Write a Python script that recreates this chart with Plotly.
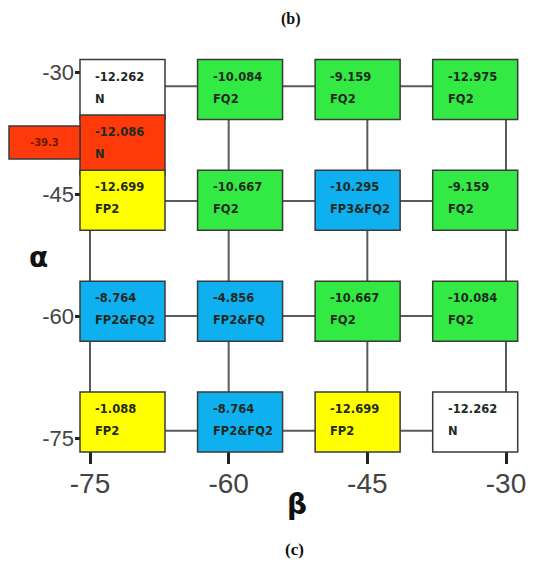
import plotly.graph_objects as go

PAGE_W, PAGE_H = 539, 565
OFF = 8                               # page margin around the figure
W, H = PAGE_W - OFF, PAGE_H - OFF     # figure size

# ---------------- data ----------------
beta_ticks = [-75, -60, -45, -30]
alpha_ticks = [-30, -45, -60, -75]

box_beta = [-75, -60, -45, -30,
            -75,
            -75, -60, -45, -30,
            -75, -60, -45, -30,
            -75, -60, -45, -30]
box_alpha = [-30, -30, -30, -30,
             -37.5,
             -45, -45, -45, -45,
             -60, -60, -60, -60,
             -75, -75, -75, -75]
box_energy = [-12.262, -10.084, -9.159, -12.975,
              -12.086,
              -12.699, -10.667, -10.295, -9.159,
              -8.764, -4.856, -10.667, -10.084,
              -1.088, -8.764, -12.699, -12.262]
box_state = ['N', 'FQ2', 'FQ2', 'FQ2',
             'N',
             'FP2', 'FQ2', 'FP3&FQ2', 'FQ2',
             'FP2&FQ2', 'FP2&FQ', 'FQ2', 'FQ2',
             'FP2', 'FP2&FQ2', 'FP2', 'N']
box_kind = ['N', 'FQ', 'FQ', 'FQ',
            'HI',
            'FP', 'FQ', 'MIX', 'FQ',
            'MIX', 'MIX', 'FQ', 'FQ',
            'FP', 'MIX', 'FP', 'N']
side_energy = [-39.3]
side_index = [4]

# ---------------- styles ----------------
kind_color = {'N': '#ffffff', 'FQ': '#33ea44', 'FP': '#ffff00',
              'MIX': '#0fb0f0', 'HI': '#ff3a0a'}
BOX_W, BOX_H = 85, 60          # px
SIDE_W, SIDE_H = 71, 33        # px
TXT_DX, TXT_DY1, TXT_DY2 = 13, 17, 39

AX_LEFT, AX_BOTTOM = 75 - OFF, 464 - OFF   # figure px of the visible axes


def xrange_for(v0, p0, v1, p1, start, end):
    p0, p1 = p0 - OFF, p1 - OFF
    s = (p1 - p0) / (v1 - v0)
    r0 = v0 - (p0 - start) / s
    return [r0, r0 + (end - start) / s], s


def yrange_for(v0, p0, v1, p1, top, bottom):
    p0, p1 = p0 - OFF, p1 - OFF
    s = (p1 - p0) / (v0 - v1)
    r1 = v0 + (p0 - top) / s
    return [r1 - (bottom - top) / s, r1], s


def px(x):
    return (x - OFF) / W


def py(y):
    return 1 - (y - OFF) / H


# visible axes (ticks) + line grid columns
xr, sx = xrange_for(-75, 90, -30, 506, AX_LEFT, W)
yr, sy = yrange_for(-30, 72, -75, 438, 0, AX_BOTTOM)
# line grid rows
y3r, sy3 = yrange_for(-30, 86.3, -75, 430.7, 0, AX_BOTTOM)
# boxes (whole figure)
x2r, sx2 = xrange_for(-75, 122.5, -30, 475.2, 0, W)
y2r, sy2 = yrange_for(-30, 89.5, -75, 422.0, 0, H)

fig = go.Figure()

# invisible trace to create the tick subplot
fig.add_trace(go.Scatter(x=beta_ticks, y=alpha_ticks, xaxis='x', yaxis='y',
                         mode='markers', marker=dict(opacity=0),
                         hoverinfo='skip', showlegend=False))

# connecting lines
for a in alpha_ticks:
    fig.add_trace(go.Scatter(x=[beta_ticks[0], beta_ticks[-1]], y=[a, a],
                             xaxis='x', yaxis='y3', mode='lines',
                             line=dict(color='#5a5a5a', width=2),
                             hoverinfo='skip', showlegend=False))
for b in beta_ticks:
    fig.add_trace(go.Scatter(x=[b, b], y=[alpha_ticks[0], alpha_ticks[-1]],
                             xaxis='x', yaxis='y3', mode='lines',
                             line=dict(color='#5a5a5a', width=2),
                             hoverinfo='skip', showlegend=False))

# invisible points at box centres (creates the box subplot)
fig.add_trace(go.Scatter(x=box_beta, y=box_alpha, xaxis='x2', yaxis='y2',
                         mode='markers', marker=dict(opacity=0),
                         text=[f"{e:.3f} {s}" for e, s in zip(box_energy, box_state)],
                         hoverinfo='text', showlegend=False))

hw, hh = BOX_W / 2 / sx2, BOX_H / 2 / sy2
shapes, annos = [], []
for b, a, e, s, k in zip(box_beta, box_alpha, box_energy, box_state, box_kind):
    shapes.append(dict(type='rect', xref='x2', yref='y2',
                       x0=b - hw, x1=b + hw, y0=a - hh, y1=a + hh,
                       fillcolor=kind_color[k], line=dict(color='#3a3a3a', width=1.5),
                       layer='above'))
    for txt, dy in ((f"{e:.3f}", TXT_DY1), (s, TXT_DY2)):
        annos.append(dict(xref='x2', yref='y2', x=b - hw, y=a + hh,
                          xshift=TXT_DX, yshift=-dy, xanchor='left', yanchor='middle',
                          text=f"<b>{txt}</b>", showarrow=False,
                          font=dict(family='DejaVu Sans', size=11.5, color='#1e2a1e')))

for i, e in zip(side_index, side_energy):
    b, a = box_beta[i], box_alpha[i]
    x1 = b - hw
    x0 = x1 - SIDE_W / sx2
    shapes.append(dict(type='rect', xref='x2', yref='y2',
                       x0=x0, x1=x1, y0=a - SIDE_H / 2 / sy2 + 2.5 / sy2,
                       y1=a + SIDE_H / 2 / sy2 + 2.5 / sy2,
                       fillcolor=kind_color['HI'], line=dict(color='#3a3a3a', width=1.5),
                       layer='above'))
    annos.append(dict(xref='x2', yref='y2', x=(x0 + x1) / 2, y=a + 2.5 / sy2,
                      xanchor='center', yanchor='middle',
                      text=f"<b>{e}</b>", showarrow=False,
                      font=dict(family='DejaVu Sans', size=10, color='#6a1a00')))

# titles / axis names
annos += [
    dict(xref='paper', yref='paper', x=px(291), y=1, text='<b>(b)</b>',
         xanchor='center', yanchor='top', showarrow=False,
         font=dict(family='Liberation Serif', size=16, color='#111')),
    dict(xref='paper', yref='paper', x=px(294), y=py(549), text='<b>(c)</b>',
         xanchor='center', yanchor='middle', showarrow=False,
         font=dict(family='Liberation Serif', size=17, color='#111')),
    dict(xref='paper', yref='paper', x=px(38), y=py(257), text='<b>α</b>',
         xanchor='center', yanchor='middle', showarrow=False,
         font=dict(family='DejaVu Sans', size=28, color='#111')),
    dict(xref='paper', yref='paper', x=px(297), y=py(504), text='<b>β</b>',
         xanchor='center', yanchor='middle', showarrow=False,
         font=dict(family='DejaVu Sans', size=28, color='#111')),
]

fig.update_layout(
    width=W, height=H, autosize=False,
    margin=dict(l=0, r=0, t=0, b=0, pad=0),
    paper_bgcolor='white', plot_bgcolor='rgba(0,0,0,0)',
    shapes=shapes, annotations=annos,
    xaxis=dict(range=xr, domain=[AX_LEFT / W, 1], anchor='y',
               tickvals=beta_ticks, ticktext=[str(v) for v in beta_ticks],
               ticks='inside', ticklen=20, tickwidth=2.5, tickcolor='#222',
               showgrid=False, zeroline=False, showline=False, automargin=False,
               tickfont=dict(family='Liberation Sans', size=28, color='#444')),
    yaxis=dict(range=yr, domain=[1 - AX_BOTTOM / H, 1], anchor='x',
               tickvals=alpha_ticks, ticktext=[str(v) for v in alpha_ticks],
               ticks='inside', ticklen=10, tickwidth=2.5, tickcolor='#222',
               showgrid=False, zeroline=False, showline=False, automargin=False,
               tickfont=dict(family='Liberation Sans', size=22, color='#444')),
    yaxis3=dict(range=y3r, overlaying='y', anchor='x', visible=False,
                showgrid=False, zeroline=False),
    xaxis2=dict(range=x2r, domain=[0, 1], anchor='y2', visible=False,
                showgrid=False, zeroline=False),
    yaxis2=dict(range=y2r, domain=[0, 1], anchor='x2', visible=False,
                showgrid=False, zeroline=False),
    showlegend=False,
)

fig.write_html("out.html")
